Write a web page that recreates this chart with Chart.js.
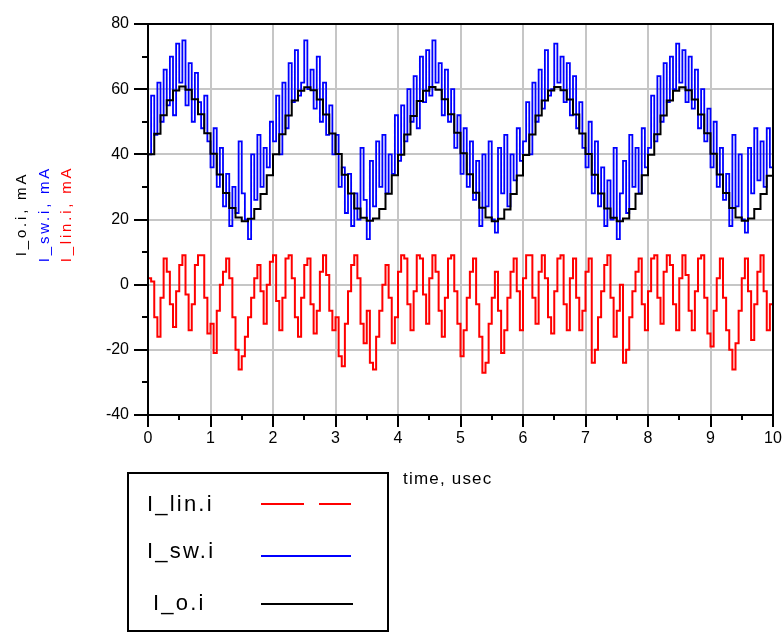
<!DOCTYPE html>
<html>
<head>
<meta charset="utf-8">
<script src="https://cdn.jsdelivr.net/npm/chart.js@4"></script>
<style>
  body { margin: 0; background: #fff; }
  #wrap { position: relative; width: 782px; height: 633px; }
  .ytitle {
    position: absolute; font: 15px "Liberation Sans", Arial, sans-serif; letter-spacing: 2.8px;
    transform: translate(-50%, -50%) rotate(-90deg); white-space: nowrap; top: 214px;
  }
  #xtitle { position: absolute; left: 403px; top: 469px; font: 17px "Liberation Sans", Arial, sans-serif; letter-spacing: 1.2px; }
  #legend { position: absolute; left: 127px; top: 472px; width: 258px; height: 156px; border: 2px solid #000; }
  .lg { position: absolute; font: 22px "Liberation Sans", Arial, sans-serif; letter-spacing: 2.2px; transform: translateY(-50%); }
  .lgline { position: absolute; left: 132px; }
</style>
</head>
<body>
<div id="wrap">
  <canvas id="chart"></canvas>
  <div class="ytitle" style="left:20px;color:#000">I_o.i, mA</div>
  <div class="ytitle" style="left:43px;color:#0000ff">I_sw.i, mA</div>
  <div class="ytitle" style="left:65px;color:#ff0000">I_lin.i, mA</div>
  <div id="xtitle">time, usec</div>
  <div id="legend">
    <div class="lg" style="left:18px;top:30px">I_lin.i</div>
    <div class="lg" style="left:18px;top:77px">I_sw.i</div>
    <div class="lg" style="left:24px;top:129px">I_o.i</div>
    <svg class="lgline" style="top:25px" width="95" height="10"><line x1="0" y1="5" x2="90" y2="5" stroke="#ff0000" stroke-width="2" stroke-dasharray="43 15"/></svg>
    <svg class="lgline" style="top:77px" width="95" height="10"><line x1="0" y1="5" x2="90" y2="5" stroke="#0000ff" stroke-width="2"/></svg>
    <svg class="lgline" style="top:125px" width="95" height="10"><line x1="0" y1="5" x2="92" y2="5" stroke="#000" stroke-width="2"/></svg>
  </div>
</div>
<script>
// time axis, usec
const tMin = 0, tMax = 10;
const yMin = -40, yMax = 80;

// I_o.i, mA  (sampled every 0.1 usec)
const ioStep = 0.1;
const io = [
  40, 46.3, 52, 56.6, 59.6, 60.8, 59.8, 56.9, 52.3, 46.5, 40.2, 33.8, 28.1, 23.5, 20.6, 19.5, 20.2, 23.2, 27.8, 33.6,
  40, 46.2, 51.9, 56.5, 59.5, 60.6, 59.7, 56.8, 52.2, 46.4, 40.1, 33.7, 28, 23.4, 20.5, 19.6, 20.3, 23.2, 27.9, 33.6,
  39.9, 46.1, 51.8, 56.4, 59.5, 60.7, 59.8, 56.9, 52.3, 46.6, 40.3, 33.9, 28.2, 23.6, 20.6, 19.5, 20.2, 23.1, 27.8, 33.5,
  39.8, 46.1, 51.9, 56.5, 59.6, 60.7, 59.7, 56.8, 52.2, 46.4, 40.1, 33.7, 28, 23.4, 20.5, 19.5, 20.3, 23.2, 27.9, 33.6,
  39.9, 46.2, 51.9, 56.5, 59.5, 60.6, 59.7, 56.8, 52.2, 46.5, 40.2, 33.8, 28.1, 23.5, 20.6, 19.6, 20.3, 23.2, 27.8, 33.4,
  38.5
];

// I_sw.i, mA  (sampled every 0.05 usec)
const swStep = 0.05;
const isw = [
  40, 58, 46, 62, 50, 66, 55, 70, 52, 74, 62, 75, 55, 68, 50, 65, 56, 48, 58, 44,
  36, 48, 30, 42, 24, 34, 18, 30, 22, 44, 28, 20, 14, 40, 26, 46, 30, 42, 36, 50,
  44, 58, 40, 62, 48, 68, 56, 72, 58, 62, 75, 60, 66, 54, 70, 50, 62, 46, 55, 40,
  46, 30, 36, 22, 34, 18, 28, 20, 42, 26, 14, 38, 24, 44, 30, 46, 28, 40, 34, 52,
  38, 55, 44, 60, 50, 64, 48, 70, 56, 72, 58, 75, 62, 68, 52, 66, 50, 60, 42, 52,
  34, 48, 30, 44, 26, 38, 18, 40, 24, 44, 20, 16, 42, 28, 46, 24, 40, 32, 48, 38,
  44, 56, 40, 62, 50, 66, 54, 72, 58, 60, 74, 62, 70, 56, 68, 52, 64, 48, 56, 42,
  36, 50, 28, 44, 24, 36, 18, 32, 20, 42, 14, 28, 38, 22, 46, 30, 42, 28, 48, 36,
  42, 58, 44, 64, 50, 68, 56, 70, 60, 74, 62, 72, 56, 70, 54, 66, 48, 60, 44, 54,
  36, 50, 30, 42, 26, 34, 18, 46, 24, 40, 20, 16, 42, 28, 48, 32, 44, 30, 48, 36,
  50
];

// I_lin.i, mA  (sampled every 0.05 usec)
const linStep = 0.05;
const ilin = [
  2, 1, -10, -16, -4, 8, 4, -6, -13, -2, 6, 9, -3, -14, -6, 6, 9, 9, -4, -15,
  -12, -21, -8, 0, 4, 8, 2, -10, -20, -26, -22, -16, -10, -4, 2, 6, -2, -12, 0, 7,
  9, -5, -14, -4, 8, 9, 2, -10, -16, -4, 6, 8, -6, -15, -8, 4, 9, 3, -8, -14,
  -10, -22, -25, -12, -2, 6, 9, 2, -12, -18, -8, -24, -26, -16, -8, 0, 6, -4, -18, -10,
  4, 9, 8, -6, -14, -2, 9, 8, -3, -12, 2, 9, 4, -8, -16, -4, 8, 9, -2, -12,
  -22, -14, -4, 4, 8, -6, -16, -27, -24, -12, -4, 4, -8, -21, -14, -4, 4, 8, -2, -14,
  2, 9, 9, -4, -12, 4, 9, 2, -10, -15, -2, 8, 9, -6, -14, 2, 8, -4, -14, -8,
  4, 8, -24, -20, -10, -2, 6, 9, -4, -16, -8, 0, -24, -20, -10, -2, 4, 8, -6, -14,
  -2, 8, 9, -4, -12, 4, 9, 6, -6, -14, 2, 9, 3, -8, -14, -2, 8, 9, -4, -15,
  -19, -8, 2, 8, -4, -14, -20, -26, -18, -8, 2, 8, -2, -17, -6, 4, 9, -2, -14, -6,
  -10
];

const toPoints = (vals, step) => vals.map((v, i) => ({ x: +(i * step).toFixed(3), y: v }));

// frame + major/minor tick marks
const frameTicks = {
  id: "frameTicks",
  afterDraw(chart) {
    const { ctx, chartArea: a, scales: { x, y } } = chart;
    ctx.save();
    ctx.strokeStyle = "#000";
    ctx.lineWidth = 2;
    ctx.strokeRect(a.left, a.top, a.right - a.left, a.bottom - a.top);
    ctx.beginPath();
    y.ticks.forEach(t => {
      const p = Math.round(y.getPixelForValue(t.value));
      const len = t.value % 20 === 0 ? 14 : 6;
      ctx.moveTo(a.left - len, p);
      ctx.lineTo(a.left, p);
    });
    x.ticks.forEach(t => {
      const p = Math.round(x.getPixelForValue(t.value));
      const len = t.value % 1 === 0 ? 12 : 5;
      ctx.moveTo(p, a.bottom);
      ctx.lineTo(p, a.bottom + len);
    });
    ctx.stroke();
    ctx.restore();
  }
};

const gridColor = (major) => (c) => (major(c.tick.value) ? "#c6c6c6" : "rgba(0,0,0,0)");

new Chart(document.getElementById("chart"), {
  type: "line",
  data: {
    datasets: [
      { label: "I_o.i", data: toPoints(io, ioStep), borderColor: "#000", borderWidth: 2, stepped: true },
      { label: "I_sw.i", data: toPoints(isw, swStep), borderColor: "#0000ff", borderWidth: 1.8, stepped: true },
      { label: "I_lin.i", data: toPoints(ilin, linStep), borderColor: "#ff0000", borderWidth: 2, stepped: true }
    ]
  },
  options: {
    responsive: true,
    maintainAspectRatio: false,
    animation: false,
    layout: { padding: { left: 0, top: 24, right: 9, bottom: 188 } },
    elements: { point: { radius: 0 } },
    plugins: { legend: { display: false }, tooltip: { enabled: false } },
    scales: {
      x: {
        type: "linear", min: tMin, max: tMax,
        afterFit: s => { s.height = 30; s.paddingLeft = 0; s.paddingRight = 0; },
        border: { color: "#000", width: 2 },
        grid: { color: gridColor(v => v % 1 === 0), lineWidth: 2, drawTicks: false },
        ticks: {
          stepSize: 0.5, padding: 14, color: "#000", maxRotation: 0, autoSkip: false,
          font: { family: "Liberation Sans", size: 16 },
          callback: v => (v % 1 === 0 ? v : "")
        }
      },
      y: {
        min: yMin, max: yMax,
        afterFit: s => { s.width = 148; s.paddingTop = 0; s.paddingBottom = 0; },
        border: { color: "#000", width: 2 },
        grid: { color: gridColor(v => v % 20 === 0), lineWidth: 2, drawTicks: false },
        ticks: {
          stepSize: 10, padding: 19, color: "#000", autoSkip: false,
          font: { family: "Liberation Sans", size: 16 },
          callback: v => (v % 20 === 0 ? v : "")
        }
      }
    }
  },
  plugins: [frameTicks]
});
</script>
</body>
</html>
